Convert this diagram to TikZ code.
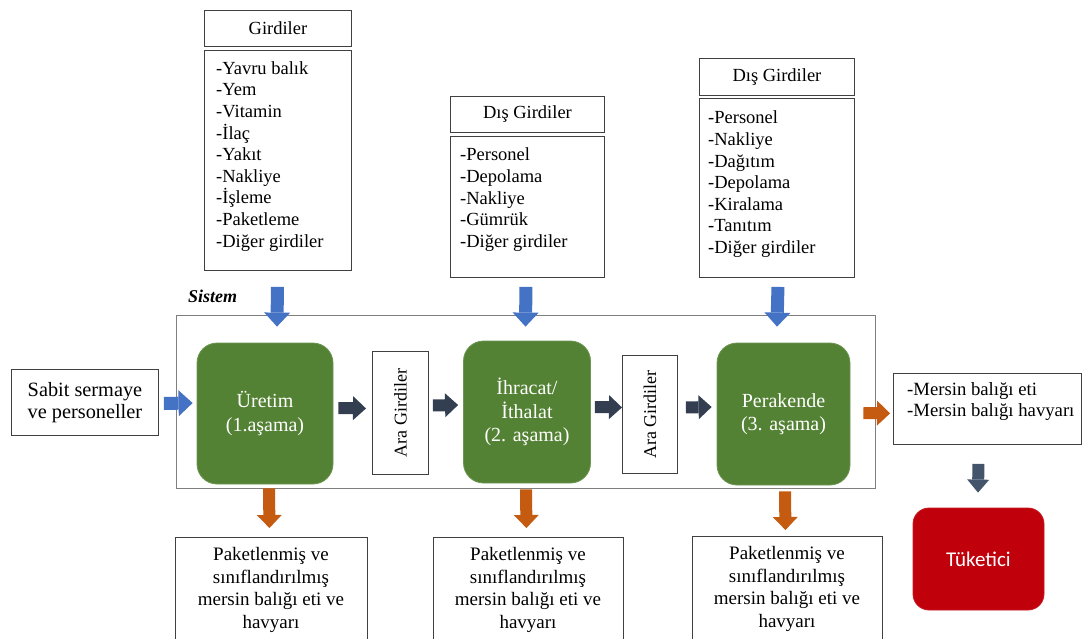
\documentclass[tikz,border=0pt]{standalone}
\usepackage{fontspec}
\setmainfont{Liberation Serif}
\newfontfamily\calibrifont{Carlito}
\usetikzlibrary{arrows.meta,calc}
\definecolor{blu}{HTML}{4472C4}
\definecolor{orng}{HTML}{C55A11}
\definecolor{drk}{HTML}{333F50}
\definecolor{drk2}{HTML}{44546A}
\definecolor{grn}{HTML}{548235}
\definecolor{rd}{HTML}{C0000B}
\definecolor{edge}{HTML}{404040}
\definecolor{sysedge}{HTML}{7F7F7F}
\begin{document}
\begin{tikzpicture}[x=1pt,y=-1pt,
  box/.style={draw=edge, line width=0.9pt, inner sep=0pt, anchor=north west, fill=white},
  hdrtxt/.style={inner sep=0pt, font=\fontsize{18.5}{21.6}\selectfont},
  listtxt/.style={inner sep=0pt, anchor=north west, align=left, font=\fontsize{18.5}{21.6}\selectfont},
  stagebox/.style={draw=grn!85!white, line width=0.8pt, fill=grn, rounded corners=20pt, inner sep=0pt,
     text=white, align=center, font=\fontsize{20}{23.5}\selectfont},
  outtxt/.style={inner sep=0pt, anchor=north, align=center, font=\fontsize{19}{22.6}\selectfont},
  arablk/.style={inner sep=0pt, rotate=90, font=\fontsize{18}{21}\selectfont},
  bluearr/.style={draw=blu, line width=13pt, -{Triangle[width=26pt,length=14pt,line width=0pt]}},
  orngarr/.style={draw=orng, line width=12pt, -{Triangle[width=25pt,length=13pt,line width=0pt]}},
  drkarr/.style={draw=drk, line width=12pt, -{Triangle[width=24pt,length=13pt,line width=0pt]}},
  drkarrb/.style={draw=drk2, line width=12pt, -{Triangle[width=22pt,length=13pt,line width=0pt]}}
]
\useasboundingbox (0,0) rectangle (1082,638);
\clip (0,0) rectangle (1082,638);

% system frame
\node[draw=sysedge, line width=0.8pt, inner sep=0pt, anchor=north west,
      minimum width=699pt, minimum height=173pt] (sys) at (176,315) {};
\node[inner sep=0pt, anchor=base west, font=\fontsize{18}{21}\selectfont\bfseries\itshape] (sistem) at (188,302) {Sistem};

% top input boxes
\node[box, minimum width=147pt, minimum height=36pt] (gh) at (204,10) {};
\node[hdrtxt] (ght) at (gh.center) {Girdiler};
\node[box, minimum width=147pt, minimum height=220pt] (gl) at (204,50) {};
\node[listtxt] (glt) at (216,59) {\strut-Yavru balık\\-Yem\\-Vitamin\\-İlaç\\-Yakıt\\-Nakliye\\-İşleme\\-Paketleme\\-Diğer girdiler};

\node[box, minimum width=154pt, minimum height=36pt] (dh) at (450,96) {};
\node[hdrtxt] (dht) at (dh.center) {Dış Girdiler};
\node[box, minimum width=154pt, minimum height=141pt] (dl) at (450,136) {};
\node[listtxt] (dlt) at (460,145.5) {\strut-Personel\\-Depolama\\-Nakliye\\-Gümrük\\-Diğer girdiler};

\node[box, minimum width=155pt, minimum height=37pt] (rh) at (699,58) {};
\node[hdrtxt] (rht) at (rh.center) {Dış Girdiler};
\node[box, minimum width=155pt, minimum height=179pt] (rl) at (699,98) {};
\node[listtxt] (rlt) at (708,108.5) {\strut-Personel\\-Nakliye\\-Dağıtım\\-Depolama\\-Kiralama\\-Tanıtım\\-Diğer girdiler};

% left input
\node[box, minimum width=147pt, minimum height=66pt] (sab) at (11,369) {};
\node[inner sep=0pt, align=center, font=\fontsize{20.3}{22.5}\selectfont] (sabt) at ($(sab.center)+(0,0)$) {Sabit sermaye\\ve personeller};

% stages
\node[stagebox, minimum width=136pt, minimum height=141pt] (ure) at (265,413.5) {Üretim\\(1.aşama)};
\node[stagebox, minimum width=127pt, minimum height=142pt] (ihr) at (527,412) {İhracat/\\İthalat\\(2. aşama)};
\node[stagebox, minimum width=133pt, minimum height=142pt] (per) at (783.5,414) {Perakende\\(3. aşama)};

% intermediate inputs
\node[box, minimum width=56pt, minimum height=123pt] (ara1) at (372,351) {};
\node[arablk] (ara1t) at (ara1.center) {Ara Girdiler};
\node[box, minimum width=55pt, minimum height=118pt] (ara2) at (622,355) {};
\node[arablk] (ara2t) at (ara2.center) {Ara Girdiler};

% output box and consumer
\node[box, minimum width=188pt, minimum height=71pt] (out) at (893,373) {};
\node[listtxt, font=\fontsize{18.7}{20.5}\selectfont] (outt) at (907,381) {\strut-Mersin balığı eti\\-Mersin balığı havyarı};
\node[draw=rd!90!white, line width=0.8pt, fill=rd, rounded corners=16pt, inner sep=0pt,
      minimum width=131pt, minimum height=102pt, text=white,
      font=\calibrifont\fontsize{21}{24}\selectfont] (tuk) at (978.5,559) {Tüketici};

% bottom output boxes
\node[box, minimum width=192pt, minimum height=120pt] (pk1) at (175,537) {};
\node[outtxt] (pk1t) at (271,544.5) {\strut Paketlenmiş ve\\sınıflandırılmış\\mersin balığı eti ve\\havyarı};
\node[box, minimum width=190pt, minimum height=120pt] (pk2) at (433,537) {};
\node[outtxt] (pk2t) at (528,544.5) {\strut Paketlenmiş ve\\sınıflandırılmış\\mersin balığı eti ve\\havyarı};
\node[box, minimum width=190pt, minimum height=120pt] (pk3) at (692,536) {};
\node[outtxt] (pk3t) at (787,543.5) {\strut Paketlenmiş ve\\sınıflandırılmış\\mersin balığı eti ve\\havyarı};

% blue inputs
\draw[bluearr] ($(gl.south)+(-0.5,16)$) -- ($(ure.north)+(12,-16)$);
\draw[bluearr] ($(dl.south)+(-1.5,9)$) -- ($(ihr.north)+(-1.5,-14)$);
\draw[bluearr] ($(rl.south)+(1,9)$) -- ($(per.north)+(-6.5,-16)$);
\draw[bluearr] ($(sab.east)+(5,1)$) -- ($(ure.west)+(-4,-10.5)$);

% dark flow arrows
\draw[drkarr] ($(ure.east)+(5,-5.5)$) -- ($(ara1.west)+(-6,-4.5)$);
\draw[drkarr] ($(ara1.east)+(4,-7.5)$) -- ($(ihr.west)+(-5,-7)$);
\draw[drkarr] ($(ihr.east)+(4,-5)$) -- ($(ara2.west)+(0,-7)$);
\draw[drkarr] ($(ara2.east)+(8,-7)$) -- ($(per.west)+(-5,-7)$);

% orange outputs
\draw[orngarr] ($(ure.south)+(4,4)$) -- ($(pk1.north)+(-2,-9)$);
\draw[orngarr] ($(ihr.south)+(-1,6)$) -- ($(pk2.north)+(-2,-9)$);
\draw[orngarr] ($(per.south)+(1.5,6)$) -- ($(pk3.north)+(-2,-6)$);
\draw[orngarr] ($(per.east)+(13,-1)$) -- ($(out.west)+(-3,4.5)$);

% to consumer
\draw[drkarrb] ($(out.south)+(-9,19)$) -- ($(tuk.north)+(-0.5,-15)$);
\end{tikzpicture}
\end{document}
